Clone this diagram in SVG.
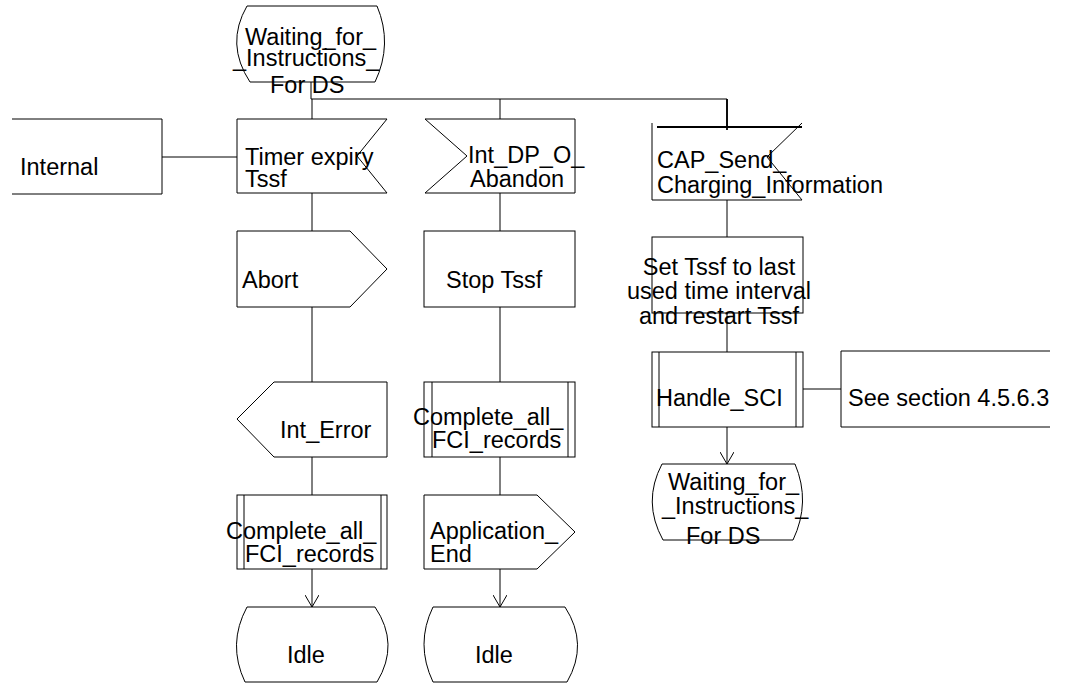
<svg xmlns="http://www.w3.org/2000/svg" width="1066" height="686" viewBox="0 0 1066 686">
<style>
.s{fill:none;stroke:#000;stroke-width:1}
.f{fill:#fff;stroke:#000;stroke-width:1}
.t{font-family:"Liberation Sans",Arial,sans-serif;font-size:23.5px;fill:#000}
</style>
<defs>
<marker id="arr" markerWidth="14" markerHeight="14" refX="12" refY="7" orient="auto" markerUnits="userSpaceOnUse">
<path d="M0,0 L12,7 L0,14" fill="none" stroke="#000" stroke-width="1"/>
</marker>
</defs>
<rect width="1066" height="686" fill="#fff"/>
<g id="connectors">
<path class="s" d="M311,82 V99 H727 V127"/>
<path class="s" d="M312,99 V119"/>
<path class="s" d="M500,99 V119"/>
<path class="s" d="M162,157 H237"/>
<path class="s" d="M312,193 V231"/>
<path class="s" d="M312,307 V382"/>
<path class="s" d="M312,457 V495"/>
<path class="s" d="M312,569 V607" marker-end="url(#arr)"/>
<path class="s" d="M500,193 V231"/>
<path class="s" d="M500,307 V382"/>
<path class="s" d="M500,457 V495"/>
<path class="s" d="M500,569 V607" marker-end="url(#arr)"/>
<path class="s" d="M727,200 V237"/>
<path class="s" d="M727,313 V352"/>
<path class="s" d="M727,427 V464" marker-end="url(#arr)"/>
<path class="s" d="M803,389 H841"/>
<path d="M727,99 V130" fill="none" stroke="#000" stroke-width="1.8"/>
</g>
<g id="state_top">
<path class="s" d="M247,6 H377 M250,82 H375 M247,6 Q225,44 250,82 M377,6 Q393,44 375,82"/>
<text class="t" x="245" y="45">Waiting_for_</text>
<text class="t" x="233" y="66">_Instructions_</text>
<text class="t" x="270" y="93">For DS</text>
</g>
<g id="internal">
<path class="s" d="M12,119 H162 V194 H12"/>
<text class="t" x="20" y="175">Internal</text>
</g>
<g id="timer_expiry">
<path class="s" d="M237,119 H387 L357,156 L387,193 H237 Z"/>
<text class="t" x="245" y="165">Timer expiry</text>
<text class="t" x="245" y="187">Tssf</text>
</g>
<g id="int_dp_o_abandon">
<path class="s" d="M425,119 H575 V193 H425 L467,156 Z"/>
<text class="t" x="468" y="163">Int_DP_O_</text>
<text class="t" x="470" y="187">Abandon</text>
</g>
<g id="cap_send">
<path class="s" d="M652,123 V200 H802 L767,157 L802,123"/>
<path d="M657,127 H802" fill="none" stroke="#000" stroke-width="1.8"/>
<text class="t" x="657" y="168">CAP_Send_</text>
<text class="t" x="657" y="193">Charging_Information</text>
</g>
<g id="abort">
<path class="s" d="M237,231 H350 L387,269 L350,307 H237 Z"/>
<text class="t" x="242" y="288">Abort</text>
</g>
<g id="stop_tssf">
<rect class="s" x="424" y="231" width="151" height="76"/>
<text class="t" x="446" y="288">Stop Tssf</text>
</g>
<g id="set_tssf">
<rect class="s" x="652" y="237" width="151" height="76"/>
<text class="t" x="719" y="275" text-anchor="middle">Set Tssf to last</text>
<text class="t" x="719" y="299" text-anchor="middle">used time interval</text>
<text class="t" x="719" y="324" text-anchor="middle">and restart Tssf</text>
</g>
<g id="int_error">
<path class="s" d="M274,382 H387 V457 H274 L237,419 Z"/>
<text class="t" x="280" y="438">Int_Error</text>
</g>
<g id="complete_mid">
<rect class="s" x="424" y="382" width="151" height="75"/>
<path class="s" d="M432,382 V457 M568,382 V457"/>
<text class="t" x="413" y="425">Complete_all_</text>
<text class="t" x="432" y="448">FCI_records</text>
</g>
<g id="handle_sci">
<rect class="s" x="652" y="352" width="151" height="75"/>
<path class="s" d="M659,352 V427 M796,352 V427"/>
<text class="t" x="656" y="406">Handle_SCI</text>
</g>
<g id="see_section">
<path class="s" d="M1050,351 H841 V427 H1050"/>
<text class="t" x="848" y="406">See section 4.5.6.3</text>
</g>
<g id="complete_left">
<rect class="s" x="237" y="495" width="150" height="74"/>
<path class="s" d="M244,495 V569 M381,495 V569"/>
<text class="t" x="226" y="539">Complete_all_</text>
<text class="t" x="245" y="562">FCI_records</text>
</g>
<g id="application_end">
<path class="s" d="M424,495 H537 L575,532 L537,569 H424 Z"/>
<text class="t" x="430" y="539">Application_</text>
<text class="t" x="430" y="562">End</text>
</g>
<g id="idle_left">
<path class="s" d="M247,607 H375 M245,682 H377 M247,607 Q227,644 245,682 M375,607 Q400,644 377,682"/>
<text class="t" x="287" y="663">Idle</text>
</g>
<g id="idle_mid">
<path class="s" d="M433,607 H565 M433,682 H567 M433,607 Q415,644 433,682 M565,607 Q589,644 567,682"/>
<text class="t" x="475" y="663">Idle</text>
</g>
<g id="state_bottom">
<path class="s" d="M662,464 H795 M663,540 H793 M662,464 Q642,502 663,540 M795,464 Q811,502 793,540"/>
<text class="t" x="668" y="490">Waiting_for_</text>
<text class="t" x="662" y="514">_Instructions_</text>
<text class="t" x="686" y="544">For DS</text>
</g>
</svg>
